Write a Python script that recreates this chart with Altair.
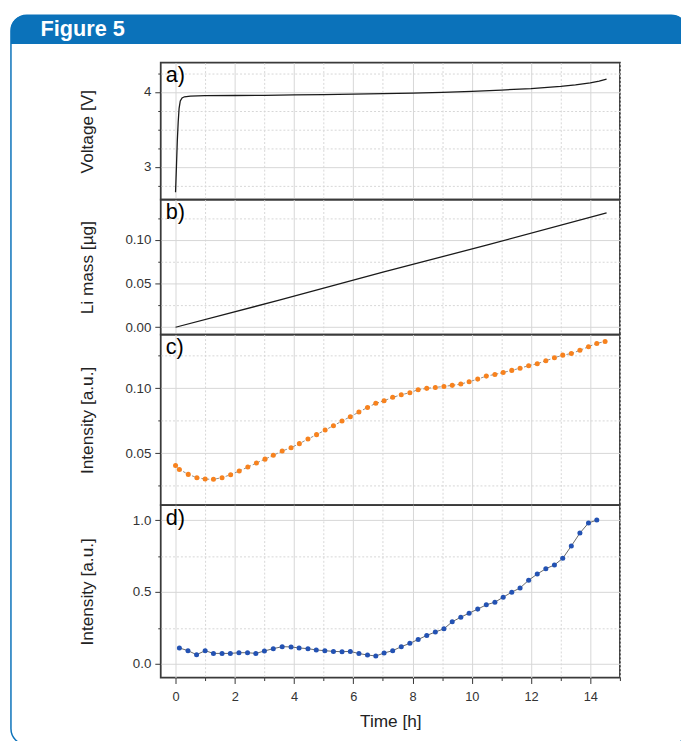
import altair as alt
import pandas as pd

# ---------------- data ----------------
t_volt = [0.0, 0.03, 0.06, 0.09, 0.12, 0.16, 0.22, 0.3, 0.5, 1.0, 2.0, 3.0, 4.0, 5.0,
          6.0, 7.0, 8.0, 9.0, 10.0, 11.0, 12.0, 13.0, 13.5, 14.0, 14.3, 14.55]
voltage = [2.66, 3.0, 3.35, 3.6, 3.78, 3.88, 3.92, 3.935, 3.945, 3.95, 3.952, 3.955,
           3.96, 3.965, 3.97, 3.977, 3.985, 3.995, 4.008, 4.025, 4.045, 4.075, 4.095,
           4.12, 4.145, 4.17]

t_mass = [0.0, 3.5, 7.0, 10.5, 14.55]
li_mass = [0.0, 0.031, 0.063, 0.094, 0.131]

t_c = [0.0, 0.13, 0.43, 0.72, 1.0, 1.28, 1.57, 1.86, 2.15, 2.44, 2.73, 3.02, 3.3, 3.6,
       3.9, 4.18, 4.47, 4.76, 5.05, 5.33, 5.62, 5.9, 6.19, 6.48, 6.76, 7.04, 7.33, 7.62,
       7.91, 8.19, 8.48, 8.77, 9.06, 9.34, 9.63, 9.91, 10.2, 10.49, 10.78, 11.06, 11.35,
       11.63, 11.92, 12.21, 12.5, 12.79, 13.07, 13.36, 13.65, 13.94, 14.22, 14.5]
intensity_c = [0.0407, 0.0376, 0.0338, 0.0313, 0.0302, 0.0300, 0.0313, 0.0336, 0.0364,
               0.0394, 0.0425, 0.0455, 0.0484, 0.0517, 0.0543, 0.0574, 0.0609, 0.0643,
               0.0678, 0.0712, 0.0747, 0.0781, 0.0816, 0.0852, 0.0883, 0.0903, 0.0929,
               0.0949, 0.0965, 0.0988, 0.0998, 0.1005, 0.1013, 0.1021, 0.1031, 0.1049,
               0.1069, 0.1092, 0.1105, 0.1120, 0.1136, 0.1153, 0.1172, 0.1187, 0.1210,
               0.1233, 0.1253, 0.1265, 0.1290, 0.1318, 0.1343, 0.1358]

t_d = [0.13, 0.42, 0.71, 1.0, 1.28, 1.57, 1.85, 2.14, 2.43, 2.71, 3.0, 3.3, 3.6, 3.9,
       4.17, 4.47, 4.75, 5.04, 5.33, 5.62, 5.9, 6.19, 6.48, 6.76, 7.04, 7.33, 7.62, 7.91,
       8.19, 8.48, 8.77, 9.06, 9.34, 9.63, 9.91, 10.2, 10.49, 10.78, 11.06, 11.35, 11.63,
       11.92, 12.21, 12.5, 12.79, 13.07, 13.36, 13.65, 13.94, 14.22]
intensity_d = [0.111, 0.092, 0.064, 0.092, 0.073, 0.073, 0.073, 0.078, 0.078, 0.073,
               0.090, 0.106, 0.120, 0.118, 0.111, 0.106, 0.097, 0.092, 0.087, 0.085,
               0.087, 0.072, 0.062, 0.055, 0.076, 0.092, 0.120, 0.143, 0.170, 0.198,
               0.222, 0.244, 0.293, 0.325, 0.353, 0.381, 0.411, 0.429, 0.464, 0.499,
               0.528, 0.582, 0.625, 0.662, 0.688, 0.734, 0.820, 0.910, 0.980, 1.000]

x_ticks = list(range(0, 16))
panel_letters = ["a)", "b)", "c)", "d)"]

# ---------------- styling ----------------
FONT = "Liberation Sans, Arial, Helvetica, sans-serif"
BLUE = "#0b72ba"
W = 466
X_DOMAIN = [-0.5, 15]

df_a = pd.DataFrame({"t": t_volt, "v": voltage})
df_b = pd.DataFrame({"t": t_mass, "v": li_mass})
df_c = pd.DataFrame({"t": t_c, "v": intensity_c})
df_d = pd.DataFrame({"t": t_d, "v": intensity_d})
one = pd.DataFrame({"k": [0]})

grid_dash_x = {"condition": {"test": "datum.value % 2 == 1", "value": [2, 2]}, "value": []}


def x_enc(show):
    if show:
        ax = alt.Axis(values=x_ticks, title="Time [h]", grid=True, gridDash=grid_dash_x,
                      labelExpr="datum.value % 2 == 0 ? datum.label : ''",
                      tickSize={"condition": {"test": "datum.value % 2 == 0", "value": 6}, "value": 3},
                      labelFontSize=13, labelPadding=7, titleFontSize=17.5,
                      titleFontWeight="normal", titlePadding=10, domain=False)
    else:
        ax = alt.Axis(values=x_ticks, title=None, labels=False, ticks=False, grid=True,
                      gridDash=grid_dash_x, domain=False)
    return alt.X("t:Q", scale=alt.Scale(domain=X_DOMAIN, nice=False, zero=False), axis=ax)


def y_enc(domain, values, major_test, fmt, title):
    ax = alt.Axis(values=values, title=title,
                  labelExpr=f"({major_test}) ? format(datum.value, '{fmt}') : ''",
                  tickSize={"condition": {"test": major_test, "value": 6}, "value": 3},
                  gridDash={"condition": {"test": major_test, "value": []}, "value": [2, 2]},
                  labelFontSize=13.5, labelPadding=4, titleFontSize=17.5,
                  titleFontWeight="normal", titleX=-74, titleBaseline="middle",
                  domain=False, grid=True)
    return alt.Y("v:Q", scale=alt.Scale(domain=domain, nice=False, zero=False), axis=ax)


def letter(txt):
    return alt.Chart(one).mark_text(align="left", baseline="top", fontSize=22,
                                    color="black", font=FONT).encode(
        x=alt.value(5), y=alt.value(3), text=alt.value(txt))


# frame / header drawn inside panel a (pixel positions relative to its plot area)
frame = alt.Chart(one).mark_rect(fill=None, fillOpacity=0, stroke=BLUE, strokeWidth=1.5,
                                 cornerRadius=16).encode(
    x=alt.value(-152), x2=alt.value(534), y=alt.value(-48.25), y2=alt.value(692))
band = alt.Chart(one).mark_rect(color=BLUE, cornerRadiusTopLeft=16,
                                cornerRadiusTopRight=16).encode(
    x=alt.value(-152), x2=alt.value(534), y=alt.value(-48.25), y2=alt.value(-19))
fig_title = alt.Chart(one).mark_text(align="left", baseline="alphabetic", fontSize=22,
                                     fontWeight="bold", color="white", font=FONT).encode(
    x=alt.value(-122), y=alt.value(-27), text=alt.value("Figure 5"))

# panel a
line_a = alt.Chart(df_a).mark_line(color="#1a1a1a", strokeWidth=1.3).encode(
    x=x_enc(False),
    y=y_enc([2.56, 4.39], [2.75, 3, 3.25, 3.5, 3.75, 4, 4.25],
            "abs(datum.value - round(datum.value)) < 0.001", "d", "Voltage [V]"))
panel_a = alt.layer(frame, band, fig_title, line_a, letter(panel_letters[0])).properties(
    width=W, height=139)

# panel b
major05 = "abs(datum.value * 20 - round(datum.value * 20)) < 0.001"
line_b = alt.Chart(df_b).mark_line(color="#1a1a1a", strokeWidth=1.3).encode(
    x=x_enc(False),
    y=y_enc([-0.0085, 0.146], [0, 0.025, 0.05, 0.075, 0.1, 0.125], major05, ".2f",
            "Li mass [µg]"))
panel_b = alt.layer(line_b, letter(panel_letters[1])).properties(width=W, height=137)

# panel c
y_c = y_enc([0.0102, 0.141], [0.025, 0.05, 0.075, 0.1, 0.125], major05, ".2f",
            "Intensity [a.u.]")
line_c = alt.Chart(df_c).mark_line(color="#8c8c8c", strokeWidth=1, strokeDash=[3, 2]).encode(
    x=x_enc(False), y=y_c)
pts_c = alt.Chart(df_c).mark_circle(color="#f7821e", size=26, opacity=1).encode(
    x=x_enc(False), y=y_c)
panel_c = alt.layer(line_c, pts_c, letter(panel_letters[2])).properties(width=W, height=173)

# panel d
y_d = y_enc([-0.095, 1.104], [0, 0.25, 0.5, 0.75, 1.0],
            "abs(datum.value * 2 - round(datum.value * 2)) < 0.001", ".1f",
            "Intensity [a.u.]")
line_d = alt.Chart(df_d).mark_line(color="#666666", strokeWidth=1).encode(
    x=x_enc(True), y=y_d)
pts_d = alt.Chart(df_d).mark_circle(color="#2352b3", size=26, opacity=1).encode(
    x=x_enc(True), y=y_d)
panel_d = alt.layer(line_d, pts_d, letter(panel_letters[3])).properties(width=W, height=175)

chart = alt.vconcat(panel_a, panel_b, panel_c, panel_d, spacing=0, bounds="flush",
                    padding={"left": 1, "top": 0, "right": -8, "bottom": 0}).configure(
    background="white", font=FONT).configure_view(
    stroke="#3a3a3a", strokeWidth=1.8).configure_axis(
    gridColor="#d6d6d6", gridWidth=1, tickColor="#333333", tickWidth=1,
    labelColor="#333333", titleColor="#222222", labelFont=FONT, titleFont=FONT)

chart.save("out.html", embed_options={"renderer": "svg", "actions": False})
